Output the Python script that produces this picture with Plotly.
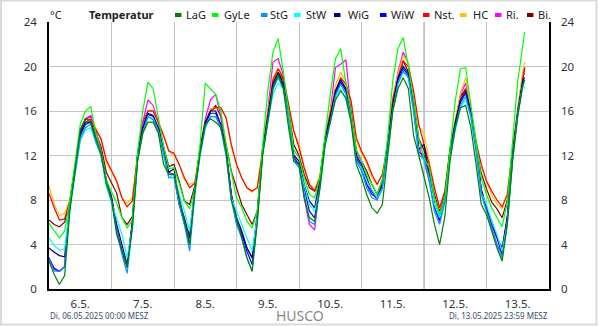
import pandas as pd
import plotly.graph_objects as go

# ---- data (2-hourly readings, 06.05.2025 00:00 .. 13.05.2025 14:40) ----
times = list(pd.date_range("2025-05-06 00:00", "2025-05-13 14:00", freq="2h")) + [pd.Timestamp("2025-05-13 14:40")]

names = ["LaG", "GyLe", "StG", "StW", "WiG", "WiW", "Nst.", "HC", "Ri.", "Bi."]
colors = ["#008000", "#00FF00", "#0096FF", "#00FFFF", "#000080", "#0000FF", "#FF0000", "#FFC000", "#FF00FF", "#800000"]

LaG = [2.5, 1.3, 0.4, 1.2, 7.0, 10.8, 14.3, 15.3, 15.0, 13.5, 12.2, 9.5,
       8.0, 4.9, 3.4, 2.0, 5.5, 11.5, 14.0, 15.0, 15.0, 14.0, 11.2, 10.3,
       10.3, 8.2, 6.4, 4.0, 8.8, 12.2, 14.8, 15.3, 15.0, 14.5, 12.4, 8.0,
       6.4, 4.6, 2.8, 1.6, 6.0, 12.0, 15.0, 18.0, 19.3, 18.0, 14.5, 11.5,
       11.2, 8.2, 6.4, 6.1, 9.0, 13.0, 15.0, 17.0, 17.8, 17.2, 15.0, 11.2,
       10.0, 8.5, 7.3, 6.8, 7.6, 12.0, 16.0, 18.0, 19.0, 18.0, 13.8, 12.0,
       10.1, 8.2, 5.8, 4.0, 6.5, 11.5, 14.5, 16.3, 16.5, 14.5, 11.2, 7.6,
       6.7, 5.2, 3.7, 2.5, 5.8, 11.5, 15.6, 18.4, 18.8]
GyLe = [5.9, 5.2, 4.6, 5.2, 8.0, 11.3, 14.8, 16.0, 16.4, 14.0, 12.3, 9.8,
        8.8, 7.7, 6.4, 5.5, 6.2, 12.3, 16.0, 18.6, 18.0, 15.5, 12.8, 10.8,
        10.9, 9.5, 7.9, 7.2, 9.0, 13.0, 18.5, 18.0, 17.5, 16.0, 13.0, 10.5,
        8.2, 7.3, 6.1, 5.5, 7.0, 12.8, 17.8, 21.3, 22.5, 19.5, 16.0, 12.5,
        11.8, 10.0, 8.5, 8.2, 10.0, 14.0, 17.5, 20.7, 21.6, 18.5, 15.8, 12.5,
        11.5, 10.3, 9.4, 8.5, 9.8, 13.5, 18.7, 21.6, 22.6, 20.0, 17.0, 13.5,
        11.8, 10.9, 8.2, 6.7, 8.3, 12.8, 16.9, 19.8, 19.9, 16.5, 13.0, 10.0,
        8.5, 7.3, 6.4, 5.6, 7.8, 13.0, 18.7, 22.0, 23.1]
StG = [2.7, 1.6, 1.6, 2.0, 7.2, 10.5, 13.5, 14.5, 14.8, 13.2, 12.0, 9.5,
       8.0, 5.2, 3.1, 1.4, 5.5, 11.5, 14.0, 15.5, 15.2, 14.2, 12.2, 10.0,
       10.0, 7.6, 5.8, 3.4, 8.5, 12.0, 14.5, 15.5, 15.5, 14.4, 12.0, 8.0,
       5.8, 4.6, 2.8, 1.6, 6.2, 12.0, 15.0, 18.0, 19.0, 18.0, 15.3, 11.5,
       10.9, 8.5, 6.1, 5.8, 9.0, 13.0, 15.0, 17.4, 18.4, 17.5, 15.3, 11.5,
       10.6, 9.1, 8.2, 8.0, 9.0, 12.4, 16.0, 18.5, 19.6, 19.0, 16.0, 12.0,
       11.8, 9.7, 7.0, 5.8, 7.8, 12.0, 14.5, 16.5, 17.3, 15.5, 12.3, 8.5,
       7.0, 5.5, 4.0, 2.8, 6.0, 11.6, 15.6, 18.4, 18.5]
StW = [4.6, 3.9, 3.5, 3.6, 7.3, 10.5, 13.3, 14.3, 14.5, 13.2, 12.0, 9.2,
       7.8, 6.4, 4.9, 2.8, 5.5, 11.5, 14.0, 15.5, 15.3, 14.2, 12.2, 10.0,
       10.3, 8.5, 7.0, 5.2, 8.8, 12.0, 14.5, 15.5, 15.5, 14.5, 12.0, 8.2,
       7.0, 5.8, 4.6, 3.4, 6.5, 12.0, 15.0, 17.5, 18.5, 18.0, 15.4, 11.5,
       11.0, 9.4, 7.6, 7.0, 9.0, 12.8, 15.0, 17.2, 18.0, 17.0, 15.0, 11.5,
       10.9, 9.7, 8.9, 8.2, 9.0, 12.0, 16.0, 18.4, 19.5, 19.0, 16.0, 12.2,
       11.5, 10.0, 7.6, 6.4, 7.8, 11.8, 14.2, 16.3, 17.0, 15.5, 12.5, 8.6,
       7.6, 6.1, 4.9, 3.4, 6.0, 11.5, 15.7, 18.4, 18.0]
WiG = [3.7, 3.3, 3.0, 2.9, 7.6, 11.0, 14.0, 15.0, 15.0, 13.6, 12.2, 9.8,
       8.3, 5.8, 4.0, 2.2, 6.0, 12.0, 14.5, 15.8, 15.6, 14.5, 12.5, 10.5,
       10.8, 7.9, 6.4, 4.6, 9.0, 12.5, 15.0, 16.0, 16.0, 14.8, 12.5, 8.5,
       6.4, 5.2, 3.7, 2.8, 6.8, 12.5, 15.5, 18.5, 19.4, 18.5, 15.8, 12.0,
       11.5, 9.4, 7.9, 7.3, 9.8, 13.5, 15.5, 17.8, 18.8, 18.0, 15.8, 12.0,
       11.2, 10.0, 8.8, 8.2, 9.5, 12.8, 16.5, 19.0, 20.0, 19.4, 16.5, 12.5,
       13.0, 10.3, 7.6, 6.4, 8.3, 12.5, 15.0, 17.0, 17.8, 16.0, 12.8, 9.0,
       7.3, 6.1, 4.6, 3.7, 6.5, 12.0, 16.0, 18.8, 19.0]
WiW = [2.8, 1.8, 1.6, 2.0, 7.5, 10.8, 13.8, 14.8, 15.0, 13.5, 12.0, 9.6,
       8.2, 5.2, 3.4, 1.9, 5.8, 11.8, 14.3, 15.7, 15.5, 14.4, 12.4, 10.3,
       10.3, 7.6, 6.1, 4.0, 8.8, 12.3, 14.8, 15.8, 15.8, 14.6, 12.3, 8.4,
       6.1, 4.9, 3.4, 2.2, 6.5, 12.2, 15.2, 18.2, 19.2, 18.3, 15.6, 11.8,
       11.2, 9.1, 7.0, 6.4, 9.5, 13.3, 15.3, 17.6, 18.6, 17.8, 15.6, 11.8,
       10.9, 9.4, 8.5, 8.2, 9.3, 12.6, 16.3, 18.8, 19.8, 19.2, 16.3, 12.3,
       12.0, 10.0, 7.3, 6.2, 8.0, 12.3, 14.8, 16.8, 17.6, 15.8, 12.6, 8.8,
       7.3, 5.8, 4.6, 3.1, 6.3, 11.8, 15.8, 18.6, 18.8]
Nst = [8.6, 7.3, 6.2, 6.3, 7.9, 11.0, 14.0, 15.3, 15.2, 14.3, 13.5, 11.6,
       10.7, 9.7, 8.2, 7.4, 7.9, 12.0, 14.5, 16.0, 16.0, 15.0, 13.8, 12.4,
       12.2, 11.2, 10.0, 9.1, 9.5, 12.5, 15.0, 16.0, 16.3, 16.3, 15.4, 13.0,
       11.2, 10.0, 9.1, 8.8, 9.1, 12.5, 15.5, 18.8, 19.8, 19.0, 16.5, 14.2,
       12.7, 10.9, 9.4, 8.8, 10.0, 13.5, 15.8, 17.8, 19.0, 18.4, 16.9, 13.6,
       12.4, 11.5, 10.3, 9.4, 10.3, 12.8, 17.0, 19.0, 20.5, 20.0, 17.8, 14.8,
       13.0, 11.2, 9.1, 7.3, 8.8, 12.5, 14.8, 17.0, 18.0, 15.5, 13.2, 11.2,
       9.7, 8.8, 8.0, 7.4, 8.5, 12.5, 16.0, 19.0, 19.9]
HC = [9.3, 7.6, 6.6, 6.8, 8.0, 11.0, 14.0, 15.0, 15.2, 14.5, 13.4, 11.4,
      10.5, 9.6, 8.2, 7.7, 8.2, 12.0, 14.5, 16.0, 16.0, 15.0, 13.8, 12.4,
      12.0, 11.2, 9.8, 9.4, 9.6, 12.5, 15.0, 16.2, 16.3, 16.2, 15.4, 12.8,
      11.2, 10.0, 9.1, 8.7, 9.2, 12.6, 15.8, 19.0, 19.8, 19.0, 16.5, 14.2,
      13.0, 10.9, 9.4, 9.0, 10.2, 13.5, 16.0, 18.3, 19.5, 18.6, 16.8, 13.4,
      12.2, 11.3, 10.0, 9.4, 10.3, 13.0, 17.2, 19.3, 21.0, 20.3, 17.6, 14.6,
      14.0, 11.4, 9.1, 7.2, 8.8, 12.8, 15.2, 17.6, 19.0, 16.0, 13.4, 11.0,
      9.6, 8.4, 7.7, 7.2, 8.6, 12.6, 16.2, 19.6, 20.4]
Ri = [2.6, 1.9, 1.6, 2.0, 7.7, 11.0, 14.2, 15.3, 15.6, 14.2, 12.5, 9.8,
      8.2, 5.5, 3.4, 2.2, 6.0, 12.0, 15.0, 17.0, 16.5, 15.0, 12.8, 10.5,
      10.3, 7.6, 5.8, 5.0, 9.0, 12.5, 15.3, 17.0, 17.5, 15.5, 12.5, 8.6,
      6.4, 5.2, 3.7, 2.8, 6.8, 12.5, 16.0, 20.4, 20.7, 19.2, 16.0, 12.0,
      11.5, 8.2, 5.8, 5.3, 9.5, 13.5, 16.0, 19.9, 20.2, 20.6, 16.0, 12.2,
      11.5, 9.4, 8.8, 8.0, 9.5, 13.0, 17.0, 19.5, 21.3, 20.3, 17.0, 12.8,
      11.5, 9.7, 7.6, 6.0, 8.3, 12.6, 15.2, 17.5, 18.5, 16.2, 13.0, 8.8,
      7.3, 5.5, 4.0, 3.2, 6.5, 12.2, 16.2, 19.4, 19.3]
Bi = [6.2, 5.8, 5.6, 6.0, 7.8, 11.0, 14.3, 15.3, 15.5, 14.0, 12.8, 10.5,
      9.5, 8.6, 6.4, 5.8, 6.5, 12.0, 15.0, 16.0, 16.0, 15.0, 12.8, 11.0,
      11.2, 9.7, 7.9, 7.6, 9.3, 12.5, 15.0, 16.0, 16.5, 15.5, 13.0, 10.6,
      9.1, 7.6, 6.7, 5.8, 7.0, 12.3, 15.5, 18.5, 19.5, 18.8, 16.0, 13.0,
      12.0, 10.3, 9.1, 8.8, 9.8, 13.3, 15.7, 17.8, 18.8, 18.0, 16.0, 12.5,
      11.5, 10.6, 9.4, 8.5, 9.8, 12.8, 16.8, 18.8, 20.5, 19.5, 17.0, 13.5,
      12.5, 10.6, 8.5, 7.0, 8.5, 12.5, 15.0, 17.3, 18.0, 15.8, 12.8, 10.4,
      9.0, 7.8, 7.2, 6.4, 8.0, 12.4, 16.0, 19.2, 19.9]

series = {"LaG": LaG, "GyLe": GyLe, "StG": StG, "StW": StW, "WiG": WiG, "WiW": WiW,
          "Nst.": Nst, "HC": HC, "Ri.": Ri, "Bi.": Bi}

day_ticks = list(pd.date_range("2025-05-06 12:00", periods=8, freq="D"))
day_labels = ["6.5.", "7.5.", "8.5.", "9.5.", "10.5.", "11.5.", "12.5.", "13.5."]
midnights = list(pd.date_range("2025-05-07 00:00", periods=7, freq="D"))
y_ticks = [0, 4, 8, 12, 16, 20, 24]

# ---- layout geometry (pixels) ----
W, H = 598, 326
L, R, T, B = 49, 49, 22, 37
PW, PH = W - L - R, H - T - B
def px(x):
    return (x - L) / PW
def py(y):
    return (H - B - y) / PH

FONT = "Noto Sans"
fig = go.Figure()
draw_order = ["Bi.", "Ri.", "HC", "Nst.", "WiW", "WiG", "StW", "StG", "GyLe", "LaG"]
for n in draw_order:
    c = colors[names.index(n)]
    fig.add_trace(go.Scatter(x=times, y=series[n], mode="lines", name=n,
                             line=dict(color=c, width=1.2), showlegend=False))
# invisible trace to carry the right axis
fig.add_trace(go.Scatter(x=[times[0]], y=[LaG[0]], yaxis="y2", mode="lines",
                         opacity=0, showlegend=False, hoverinfo="skip"))

axis_font = dict(family=FONT, size=11.5, color="#333333")
fig.update_layout(
    width=W, height=H, margin=dict(l=L, r=R, t=T, b=B),
    paper_bgcolor="white", plot_bgcolor="white", showlegend=False,
    xaxis=dict(range=[pd.Timestamp("2025-05-06 00:00"), pd.Timestamp("2025-05-14 00:00")],
               tickmode="array", tickvals=day_ticks, ticktext=day_labels,
               showgrid=False, ticks="", tickfont=axis_font, ticklabelstandoff=3,
               showline=True, linecolor="black", linewidth=1.5, zeroline=False,
               minor=dict(tickmode="array", tickvals=midnights, showgrid=True,
                          gridcolor="#c4c4c4", gridwidth=1, ticks="")),
    yaxis=dict(range=[0, 24], tickmode="array", tickvals=y_ticks, showgrid=True,
               gridcolor="#c4c4c4", gridwidth=1, zeroline=False, ticks="",
               tickfont=axis_font, ticklabelstandoff=8,
               showline=True, linecolor="black", linewidth=1.5),
    yaxis2=dict(range=[0, 24], tickmode="array", tickvals=y_ticks, overlaying="y", side="right",
                showgrid=False, zeroline=False, ticks="", tickfont=axis_font, ticklabelstandoff=8,
                showline=True, linecolor="black", linewidth=1.5),
)

shapes = []
# darker separator line
shapes.append(dict(type="line", xref="x", yref="paper", x0=midnights[5], x1=midnights[5],
                   y0=0, y1=1, line=dict(color="#9a9a9a", width=1), layer="below"))
# outer frame
shapes.append(dict(type="rect", xref="paper", yref="paper", x0=px(1), x1=px(596.5),
                   y0=py(324.5), y1=py(0.5), line=dict(color="#dadada", width=2)))

annotations = []
annotations.append(dict(x=px(48), y=py(15), xref="paper", yref="paper", text="°C",
                        showarrow=False, xanchor="left", yanchor="middle",
                        font=dict(family=FONT, size=11, color="#222222")))
annotations.append(dict(x=px(87), y=py(15), xref="paper", yref="paper", text="<b>Temperatur</b>",
                        showarrow=False, xanchor="left", yanchor="middle",
                        font=dict(family=FONT, size=11, color="#222222")))
marker_x = [175, 212, 261, 294, 334, 380, 423, 460, 495, 527]
text_x = [184, 222, 268, 304, 346, 389, 432, 471, 504, 536]
for n, c, mx, tx in zip(names, colors, marker_x, text_x):
    shapes.append(dict(type="rect", xref="paper", yref="paper", x0=px(mx), x1=px(mx + 6.5),
                       y0=py(17), y1=py(13), fillcolor=c, line=dict(width=0)))
    annotations.append(dict(x=px(tx), y=py(15), xref="paper", yref="paper", text=n,
                            showarrow=False, xanchor="left", yanchor="middle",
                            font=dict(family=FONT, size=11, color="#222222")))
annotations.append(dict(x=px(48), y=py(315), xref="paper", yref="paper",
                        text="Di, 06.05.2025 00:00 MESZ", showarrow=False,
                        xanchor="left", yanchor="middle",
                        font=dict(family=FONT, size=8, color="#3a4a72")))
annotations.append(dict(x=px(550), y=py(315), xref="paper", yref="paper",
                        text="Di, 13.05.2025 23:59 MESZ", showarrow=False,
                        xanchor="right", yanchor="middle",
                        font=dict(family=FONT, size=8, color="#3a4a72")))
annotations.append(dict(x=px(300), y=py(315), xref="paper", yref="paper",
                        text="HUSCO", showarrow=False, xanchor="center", yanchor="middle",
                        font=dict(family=FONT, size=14, color="#8a8a8a")))
fig.update_layout(shapes=shapes, annotations=annotations)

fig.write_html("out.html")
